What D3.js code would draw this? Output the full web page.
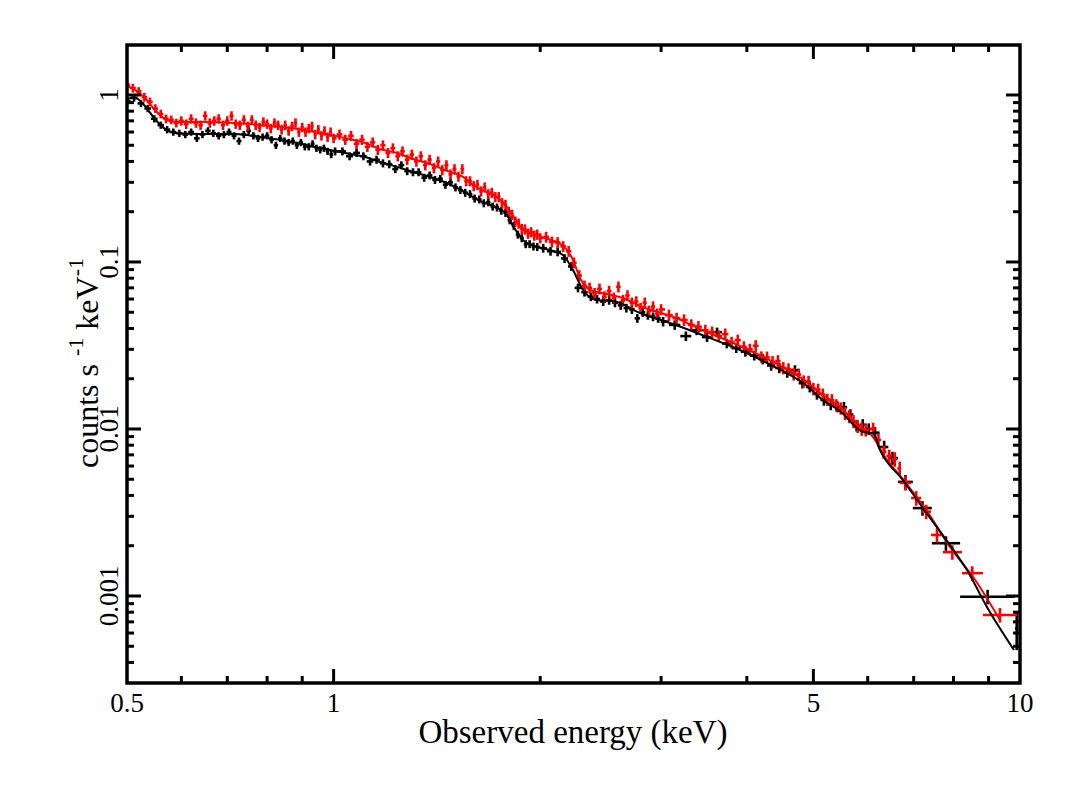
<!DOCTYPE html>
<html>
<head>
<meta charset="utf-8">
<script src="https://cdn.jsdelivr.net/npm/d3@7"></script>
<style>
  html, body { margin: 0; padding: 0; background: #fff; }
  svg { display: block; }
  text { font-family: "Liberation Serif", "Times New Roman", serif; fill: #000; }
</style>
</head>
<body>
<svg id="chart" width="1081" height="792"></svg>
<script>
// ---------- data ----------
const xTickMajor = [0.5, 1, 5, 10];
const xTickLabels = ["0.5", "1", "5", "10"];
const xTickMinor = [0.6, 0.7, 0.8, 0.9, 2, 3, 4, 6, 7, 8, 9];
const yTickMajor = [1, 0.1, 0.01, 0.001];
const yTickLabels = ["1", "0.1", "0.01", "0.001"];
const yTickMinor = [0.0004, 0.0005, 0.0006, 0.0007, 0.0008, 0.0009,
  0.002, 0.003, 0.004, 0.005, 0.006, 0.007, 0.008, 0.009,
  0.02, 0.03, 0.04, 0.05, 0.06, 0.07, 0.08, 0.09,
  0.2, 0.3, 0.4, 0.5, 0.6, 0.7, 0.8, 0.9];

// [energy keV, counts/s/keV, relative error, (bin low), (bin high)]
const redData = [
  [0.50,1.15,0.06],[0.51,1.10,0.06],[0.52,1.05,0.06],[0.53,0.97,0.06],[0.54,0.91,0.06],
  [0.55,0.83,0.06],[0.56,0.77,0.06],[0.57,0.72,0.06],[0.58,0.71,0.06],[0.59,0.68,0.06],
  [0.60,0.70,0.065],[0.61,0.67,0.065],[0.62,0.72,0.065],[0.63,0.68,0.065],[0.64,0.66,0.065],
  [0.65,0.75,0.065],[0.66,0.68,0.065],[0.67,0.70,0.065],[0.68,0.72,0.065],[0.69,0.66,0.065],
  [0.70,0.70,0.065],[0.71,0.75,0.065],[0.72,0.67,0.065],[0.73,0.66,0.065],[0.74,0.71,0.065],
  [0.75,0.65,0.065],[0.76,0.71,0.065],[0.77,0.66,0.065],[0.78,0.64,0.065],[0.79,0.69,0.065],
  [0.80,0.67,0.065],[0.81,0.63,0.065],[0.82,0.68,0.065],[0.83,0.66,0.065],[0.84,0.62,0.065],
  [0.85,0.66,0.065],[0.86,0.61,0.065],[0.87,0.65,0.065],[0.88,0.68,0.065],[0.89,0.60,0.065],
  [0.90,0.64,0.065],[0.91,0.60,0.065],[0.92,0.63,0.065],[0.93,0.65,0.065],[0.94,0.58,0.065],
  [0.95,0.62,0.065],[0.96,0.57,0.065],[0.97,0.61,0.065],[0.98,0.56,0.065],[0.99,0.60,0.065],
  [1.00,0.55,0.065],
  [1.02,0.58,0.07],[1.04,0.54,0.07],[1.06,0.57,0.07],[1.08,0.51,0.07],[1.10,0.54,0.07],
  [1.12,0.49,0.07],[1.14,0.52,0.07],[1.16,0.47,0.07],[1.18,0.50,0.07],[1.20,0.45,0.07],
  [1.22,0.48,0.07],[1.24,0.43,0.07],[1.26,0.46,0.07],[1.28,0.41,0.07],[1.30,0.44,0.07],
  [1.32,0.40,0.07],[1.34,0.43,0.07],[1.36,0.38,0.07],[1.38,0.41,0.07],[1.40,0.365,0.07],
  [1.42,0.40,0.07],[1.44,0.355,0.07],[1.46,0.38,0.07],[1.48,0.335,0.07],[1.50,0.36,0.07],
  [1.52,0.325,0.07],[1.54,0.36,0.07],[1.56,0.305,0.07],[1.58,0.305,0.07],[1.60,0.285,0.07],
  [1.62,0.29,0.07],[1.64,0.265,0.07],[1.66,0.28,0.07],[1.68,0.255,0.07],[1.70,0.26,0.07],
  [1.72,0.245,0.07],[1.74,0.245,0.07],[1.76,0.225,0.07],[1.78,0.22,0.07],[1.80,0.20,0.07],
  [1.82,0.192,0.07],[1.84,0.175,0.07],[1.86,0.170,0.07],[1.88,0.158,0.07],[1.90,0.157,0.07],
  [1.92,0.148,0.07],[1.94,0.151,0.07],[1.96,0.144,0.07],[1.98,0.146,0.07],[2.00,0.139,0.07],
  [2.04,0.141,0.075],[2.08,0.132,0.075],[2.12,0.131,0.075],[2.16,0.124,0.075],[2.20,0.116,0.075],
  [2.24,0.099,0.075],[2.28,0.083,0.075],[2.32,0.072,0.075],[2.36,0.070,0.075],[2.40,0.065,0.075],
  [2.44,0.069,0.075],[2.48,0.062,0.075],[2.52,0.067,0.075],[2.56,0.061,0.075],[2.60,0.071,0.075],
  [2.64,0.059,0.075],[2.68,0.063,0.075],[2.72,0.057,0.075],[2.76,0.058,0.075],[2.80,0.053,0.075],
  [2.84,0.057,0.075],[2.88,0.051,0.075],[2.92,0.054,0.075],[2.96,0.049,0.075],[3.00,0.052,0.075],
  [3.08,0.048,0.08],[3.16,0.046,0.08],[3.24,0.045,0.08],[3.32,0.042,0.08],[3.40,0.041,0.08],
  [3.48,0.039,0.08],[3.56,0.038,0.08],[3.64,0.036,0.08],[3.72,0.037,0.08],[3.80,0.033,0.08],
  [3.88,0.034,0.08],[3.96,0.031,0.08],[4.04,0.030,0.08],[4.12,0.0315,0.08],[4.20,0.027,0.08],
  [4.28,0.0268,0.085],[4.36,0.0252,0.085],[4.44,0.0255,0.085],[4.52,0.0232,0.085],[4.60,0.0228,0.085],
  [4.68,0.0213,0.085],[4.76,0.0212,0.085],[4.84,0.0193,0.085],[4.92,0.0192,0.085],[5.00,0.0174,0.085],
  [5.08,0.0172,0.085],[5.16,0.0161,0.085],[5.24,0.0150,0.085],[5.32,0.0149,0.085],[5.40,0.0139,0.085],
  [5.48,0.0133,0.085],[5.56,0.0124,0.09],[5.64,0.0119,0.09],[5.72,0.0111,0.09],[5.80,0.0104,0.09],
  [5.88,0.0100,0.09],[5.96,0.0099,0.09],
  [6.11,0.0100,0.09],[6.22,0.0086,0.09],[6.33,0.0073,0.09],[6.45,0.0069,0.09],[6.57,0.0066,0.1],
  [6.68,0.0058,0.1],
  [6.81,0.00475,0.1,6.69,6.94],[7.06,0.00386,0.1,6.94,7.18],[7.30,0.0032,0.1,7.18,7.42],
  [7.57,0.00232,0.1,7.42,7.72],[7.97,0.00183,0.1,7.72,8.23],[8.52,0.00137,0.1,8.23,8.83],
  [9.35,0.00077,0.1,8.83,9.90]
];

const blackData = [
  [0.500,0.92,0.05],[0.512,0.96,0.05],[0.524,0.89,0.05],[0.536,0.83,0.05],[0.548,0.72,0.05],
  [0.560,0.66,0.05],[0.572,0.62,0.05],[0.584,0.60,0.05],[0.596,0.59,0.05],[0.608,0.58,0.05],
  [0.620,0.60,0.05],[0.632,0.55,0.05],[0.644,0.58,0.05],[0.656,0.61,0.05],[0.668,0.59,0.05],
  [0.680,0.57,0.05],[0.692,0.58,0.05],[0.704,0.60,0.05],[0.716,0.57,0.05],[0.728,0.53,0.05],
  [0.740,0.58,0.05],[0.752,0.61,0.05],[0.764,0.57,0.05],[0.776,0.55,0.05],[0.788,0.56,0.05],
  [0.800,0.57,0.05],[0.812,0.54,0.05],[0.824,0.50,0.05],[0.836,0.55,0.05],[0.848,0.53,0.05],
  [0.860,0.52,0.05],[0.872,0.53,0.05],[0.884,0.50,0.05],[0.896,0.52,0.05],[0.908,0.49,0.05],
  [0.920,0.49,0.05],[0.932,0.51,0.05],[0.944,0.48,0.05],[0.956,0.47,0.05],[0.968,0.48,0.05],
  [0.980,0.46,0.05],[0.992,0.44,0.05],
  [1.005,0.46,0.055],[1.030,0.46,0.055],[1.055,0.43,0.055],[1.080,0.45,0.055],[1.105,0.43,0.055],
  [1.130,0.40,0.055],[1.155,0.41,0.055],[1.180,0.39,0.055],[1.205,0.385,0.055],[1.230,0.36,0.055],
  [1.255,0.38,0.055],[1.280,0.35,0.055],[1.305,0.345,0.055],[1.330,0.345,0.055],[1.355,0.32,0.055],
  [1.380,0.33,0.055],[1.405,0.31,0.055],[1.430,0.315,0.055],[1.455,0.29,0.055],[1.480,0.30,0.055],
  [1.505,0.28,0.055],[1.530,0.27,0.055],[1.555,0.26,0.055],[1.580,0.255,0.055],[1.605,0.24,0.055],
  [1.630,0.237,0.055],[1.655,0.225,0.055],[1.680,0.228,0.055],[1.705,0.215,0.055],[1.730,0.212,0.055],
  [1.755,0.203,0.055],[1.780,0.197,0.055],[1.805,0.178,0.055],[1.830,0.165,0.055],[1.855,0.146,0.055],
  [1.880,0.139,0.055],[1.905,0.128,0.055],[1.930,0.128,0.055],[1.955,0.124,0.055],[1.980,0.123,0.055],
  [2.02,0.121,0.06],[2.07,0.116,0.06],[2.12,0.115,0.06],[2.17,0.105,0.06],[2.22,0.094,0.06],
  [2.27,0.070,0.06],[2.32,0.066,0.06],[2.37,0.062,0.06],[2.42,0.060,0.06],[2.47,0.058,0.06],
  [2.52,0.059,0.06],[2.57,0.057,0.06],[2.62,0.055,0.06],[2.67,0.053,0.06],[2.72,0.052,0.06],
  [2.77,0.046,0.06],[2.82,0.050,0.06],[2.87,0.048,0.06],[2.92,0.047,0.06],[2.97,0.046,0.06],
  [3.02,0.044,0.065],[3.14,0.042,0.065],[3.26,0.036,0.065],[3.38,0.039,0.065],[3.50,0.0355,0.065],
  [3.62,0.038,0.065],[3.74,0.0325,0.065],[3.86,0.0305,0.065],[3.98,0.029,0.065],[4.10,0.0275,0.065],
  [4.22,0.0262,0.07],[4.34,0.024,0.07],[4.46,0.0232,0.07],[4.58,0.0218,0.07],[4.70,0.0225,0.07],
  [4.82,0.0188,0.07],[4.94,0.0178,0.07],[5.06,0.0162,0.075],[5.18,0.0149,0.075],[5.30,0.0140,0.075],
  [5.42,0.0136,0.075],[5.54,0.0135,0.075],[5.66,0.0122,0.075],[5.78,0.0105,0.08],
  [5.90,0.0106,0.08],[6.02,0.0100,0.08],[6.15,0.0095,0.08],[6.34,0.0078,0.09],[6.52,0.0067,0.09],
  [6.81,0.00482,0.1,6.64,6.98],[7.21,0.00336,0.1,6.98,7.44],[7.80,0.00207,0.1,7.44,8.18],
  [8.97,0.00099,0.1,8.18,9.83],[9.89,0.00064,0.26,9.83,9.95]
];

// folded model curves [energy keV, counts/s/keV]
const redModel = [
  [0.500,1.132],[0.514,1.071],[0.531,0.959],[0.549,0.813],[0.568,0.718],[0.587,0.689],
  [0.639,0.689],[0.718,0.680],[0.781,0.661],[0.864,0.634],[0.971,0.584],[1.039,0.553],
  [1.111,0.516],[1.168,0.475],[1.237,0.449],[1.305,0.414],[1.382,0.386],[1.462,0.351],
  [1.544,0.323],[1.596,0.289],[1.673,0.262],[1.730,0.245],[1.789,0.213],[1.826,0.188],
  [1.868,0.164],[1.932,0.149],[2.032,0.139],[2.158,0.125],[2.232,0.103],[2.286,0.080],
  [2.364,0.068],[2.502,0.0643],[2.640,0.0609],[2.795,0.0545],[3.122,0.0469],[3.499,0.0381],
  [3.909,0.0314],[4.370,0.0252],[4.894,0.0191],[5.160,0.0160],[5.470,0.01355],[5.850,0.01014],
  [6.000,0.0097],[6.150,0.0086],[6.290,0.00728],[6.800,0.00482],[7.320,0.00323],[7.910,0.00196],
  [8.600,0.00125],[9.350,0.000718]
];
const blackModel = [
  [0.500,0.94],[0.512,0.97],[0.531,0.859],[0.549,0.718],[0.568,0.626],[0.587,0.592],
  [0.639,0.584],[0.718,0.584],[0.781,0.560],[0.870,0.523],[0.971,0.475],[1.039,0.449],
  [1.111,0.425],[1.168,0.397],[1.237,0.371],[1.305,0.346],[1.382,0.323],[1.462,0.297],
  [1.544,0.266],[1.634,0.232],[1.730,0.211],[1.789,0.191],[1.826,0.164],[1.887,0.1355],
  [1.979,0.123],[2.067,0.118],[2.158,0.110],[2.232,0.0896],[2.309,0.068],[2.419,0.0591],
  [2.553,0.0584],[2.795,0.0495],[3.122,0.0425],[3.499,0.0356],[3.909,0.0297],[4.370,0.0238],
  [4.894,0.0181],[5.160,0.0149],[5.470,0.0128],[5.910,0.0096],[6.110,0.00946],[6.250,0.00749],
  [6.750,0.00496],[7.220,0.00336],[7.830,0.00213],[8.370,0.00143],[8.950,0.00086],[9.800,0.000475]
];

const xLabel = "Observed energy (keV)";

// ---------- drawing ----------
const svg = d3.select("#chart");
const L = 127, R = 1020, T = 45, B = 683;
const x = d3.scaleLog().domain([0.5, 10]).range([L, R]);
const y = d3.scaleLog().domain([3.013e-4, 1.992]).range([B, T]);

svg.append("defs").append("clipPath").attr("id", "clip")
  .append("rect").attr("x", L).attr("y", T).attr("width", R - L).attr("height", B - T);

const plot = svg.append("g").attr("clip-path", "url(#clip)");

function bins(data) {
  return data.map((d, i) => {
    const prev = data[i - 1], next = data[i + 1];
    let lo = d[3], hi = d[4];
    if (hi === undefined) {
      if (next) hi = next[3] !== undefined ? next[3] : Math.sqrt(d[0] * next[0]);
      else hi = d[0] * d[0] / Math.sqrt(d[0] * prev[0]);
    }
    if (lo === undefined) {
      if (prev) lo = prev[4] !== undefined ? prev[4] : Math.sqrt(d[0] * prev[0]);
      else lo = d[0] * d[0] / hi;
    }
    return { e: d[0], v: d[1], err: d[2], lo, hi };
  });
}

function drawData(data, color) {
  const g = plot.append("g").attr("stroke", color).attr("stroke-width", 2.6).attr("fill", "none");
  const b = bins(data);
  g.selectAll("line.h").data(b).join("line").attr("class", "h")
    .attr("x1", d => x(d.lo)).attr("x2", d => x(d.hi))
    .attr("y1", d => y(d.v)).attr("y2", d => y(d.v));
  g.selectAll("line.v").data(b).join("line").attr("class", "v")
    .attr("x1", d => x(d.e)).attr("x2", d => x(d.e))
    .attr("y1", d => y(d.v * (1 - d.err))).attr("y2", d => y(d.v * (1 + d.err)));
}

drawData(blackData, "#000");
drawData(redData, "#ff0000");

const line = d3.line().x(d => x(d[0])).y(d => y(d[1])).curve(d3.curveMonotoneX);
plot.append("path").datum(redModel).attr("d", line)
  .attr("fill", "none").attr("stroke", "#ff0000").attr("stroke-width", 2);
plot.append("path").datum(blackModel).attr("d", line)
  .attr("fill", "none").attr("stroke", "#000").attr("stroke-width", 2);

// frame
svg.append("rect").attr("x", L).attr("y", T).attr("width", R - L).attr("height", B - T)
  .attr("fill", "none").attr("stroke", "#000").attr("stroke-width", 3.5);

// ticks (inward, all sides)
const tk = svg.append("g").attr("stroke", "#000").attr("stroke-width", 3);
const MAJ = 14, MIN = 7;
xTickMajor.concat(xTickMinor).forEach(v => {
  const len = xTickMajor.includes(v) ? MAJ : MIN;
  const px = x(v);
  if (px <= L + 1 || px >= R - 1) return;
  tk.append("line").attr("x1", px).attr("x2", px).attr("y1", B).attr("y2", B - len);
  tk.append("line").attr("x1", px).attr("x2", px).attr("y1", T).attr("y2", T + len);
});
yTickMajor.concat(yTickMinor).forEach(v => {
  const len = yTickMajor.includes(v) ? MAJ : MIN;
  const py = y(v);
  if (py <= T + 1 || py >= B - 1) return;
  tk.append("line").attr("y1", py).attr("y2", py).attr("x1", L).attr("x2", L + len);
  tk.append("line").attr("y1", py).attr("y2", py).attr("x1", R).attr("x2", R - len);
});

// tick labels
xTickMajor.forEach((v, i) => {
  svg.append("text").attr("x", x(v)).attr("y", 712).attr("text-anchor", "middle")
    .attr("font-size", 27).text(xTickLabels[i]);
});
yTickMajor.forEach((v, i) => {
  svg.append("text").attr("transform", `translate(118,${y(v)}) rotate(-90)`)
    .attr("text-anchor", "middle").attr("font-size", 27).text(yTickLabels[i]);
});

// axis titles
svg.append("text").attr("x", 573).attr("y", 743).attr("text-anchor", "middle")
  .attr("font-size", 33).text(xLabel);

const yl = svg.append("text").attr("transform", "translate(98,363) rotate(-90)")
  .attr("text-anchor", "middle").attr("font-size", 32);
yl.append("tspan").text("counts s ");
yl.append("tspan").attr("dy", -15).attr("font-size", 22).text("-1");
yl.append("tspan").attr("dy", 15).text(" keV");
yl.append("tspan").attr("dy", -15).attr("font-size", 22).text("-1");
</script>
</body>
</html>
